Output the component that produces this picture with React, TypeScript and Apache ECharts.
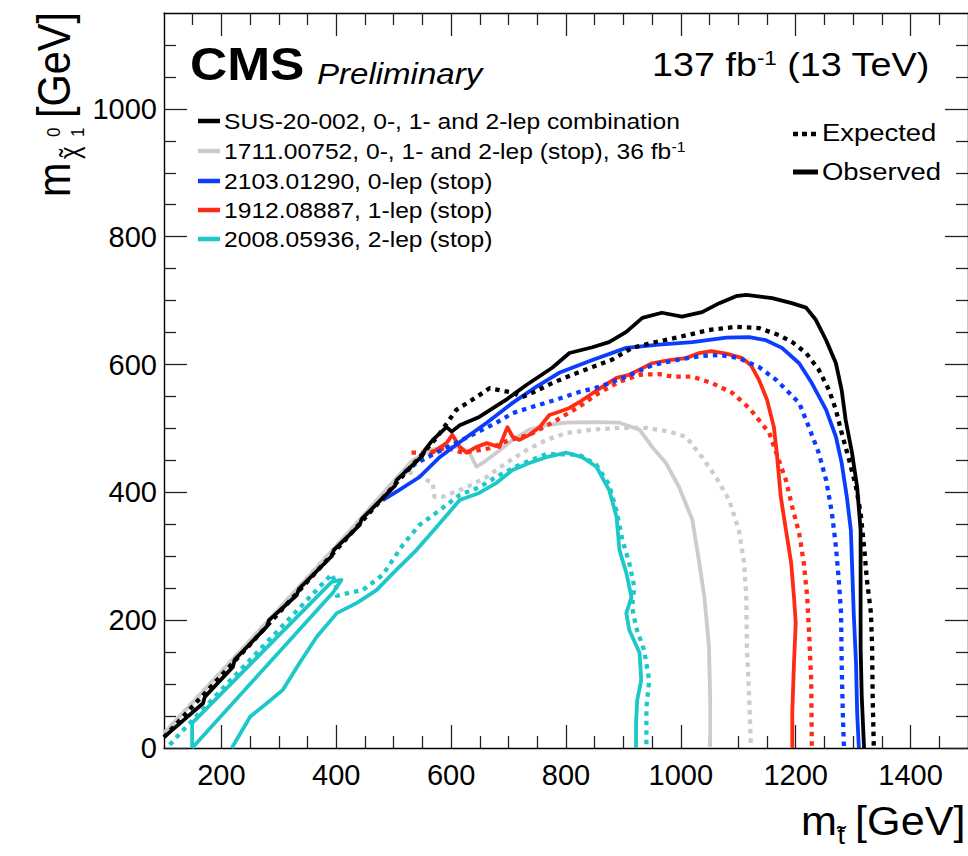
import React, { useEffect, useRef } from "react";
import * as echarts from "echarts";

const FONT = "'Liberation Sans', Arial, Helvetica, sans-serif";

// ---- axis ticks ----
const xMajorTicks = [200, 400, 600, 800, 1000, 1200, 1400];
const xMinorTicks = [150, 250, 300, 350, 450, 500, 550, 650, 700, 750, 850, 900, 950, 1050, 1100, 1150, 1250, 1300, 1350, 1450];
const yMajorTicks = [0, 200, 400, 600, 800, 1000];
const yMinorTicks = [50, 100, 150, 250, 300, 350, 450, 500, 550, 650, 700, 750, 850, 900, 950, 1050, 1100];

// ---- contours [m_stop, m_LSP] in GeV ----
const obsCombo = [[100,17],[168,70],[171,80],[220,127],[223,138],[279,190],[283,200],[331,239],[335,249],[392,300],[396,310],[441,349],[444,358],[502,410],[505,419],[550,457],[554,466],[568,482],[592,502],[601,495],[615,505],[649,518],[696,545],[731,568],[776,595],[806,618],[846,627],[875,635],[905,651],[933,673],[967,681],[1002,675],[1037,682],[1067,696],[1096,707],[1114,709],[1159,704],[1193,696],[1218,689],[1235,670],[1253,638],[1270,602],[1280,560],[1287,513],[1298,462],[1307,408],[1313,341],[1313,263],[1313,158],[1315,80],[1319,0]];
const expCombo = [[100,17],[250,162],[400,310],[550,460],[576,487],[609,529],[644,549],[667,563],[684,560],[707,556],[724,549],[742,556],[776,571],[811,584],[846,596],[881,608],[915,626],[950,634],[992,642],[1049,654],[1096,659],[1136,657],[1171,646],[1194,635],[1218,618],[1240,592],[1258,560],[1270,529],[1280,493],[1293,451],[1305,408],[1313,368],[1319,315],[1324,263],[1331,211],[1333,158],[1334,80],[1336,0]];
const obs1711 = [[100,23],[250,168],[400,316],[530,448],[562,466],[592,471],[615,471],[632,462],[644,440],[655,446],[679,462],[707,482],[736,498],[766,505],[801,509],[853,510],[893,509],[928,498],[950,471],[974,446],[997,408],[1020,357],[1032,290],[1041,236],[1049,158],[1051,80],[1051,0]];
const exp1711 = [[100,23],[250,168],[400,316],[519,435],[568,415],[571,393],[585,393],[627,408],[662,424],[696,446],[731,466],[766,482],[801,493],[846,498],[893,501],[940,501],[980,495],[1009,487],[1037,455],[1061,424],[1084,388],[1101,341],[1110,290],[1114,236],[1115,158],[1119,80],[1122,0]];
const obs0lep = [[481,388],[510,404],[545,424],[580,455],[620,482],[662,509],[707,540],[748,565],[788,587],[846,607],[905,626],[962,631],[1020,635],[1079,642],[1119,643],[1148,638],[1176,626],[1206,602],[1228,571],[1253,529],[1270,487],[1280,446],[1289,393],[1296,341],[1298,290],[1301,211],[1305,133],[1307,55],[1310,0]];
const exp0lep = [[519,432],[540,446],[568,459],[679,509],[707,524],[742,534],[783,545],[823,557],[858,565],[905,581],[950,599],[992,607],[1032,613],[1067,615],[1101,610],[1136,596],[1166,576],[1206,540],[1223,502],[1240,462],[1253,419],[1263,368],[1270,315],[1275,263],[1279,211],[1280,133],[1282,55],[1284,0]];
const obs1lep = [[562,459],[592,477],[602,490],[615,471],[627,462],[644,471],[662,477],[684,471],[698,502],[707,487],[719,482],[736,490],[754,502],[771,521],[788,526],[806,532],[823,541],[841,552],[863,565],[888,579],[910,584],[928,592],[950,602],[980,607],[1009,610],[1032,618],[1053,621],[1079,617],[1107,610],[1122,599],[1136,576],[1150,545],[1162,502],[1167,462],[1174,393],[1183,341],[1192,290],[1197,236],[1200,196],[1197,133],[1194,55],[1194,0]];
const exp1lep = [[531,462],[562,462],[592,470],[620,462],[649,466],[667,469],[702,482],[736,490],[776,509],[823,534],[858,556],[893,573],[928,584],[962,585],[985,581],[1020,581],[1054,571],[1089,556],[1119,532],[1136,513],[1154,493],[1166,462],[1183,419],[1194,377],[1206,336],[1214,290],[1220,236],[1223,185],[1227,106],[1228,0]];
const obs2lep = [[218,0],[250,49],[279,70],[307,91],[336,133],[366,174],[401,211],[436,227],[470,247],[505,279],[540,310],[575,346],[615,388],[649,399],[679,415],[707,435],[736,446],[766,455],[801,462],[828,455],[853,440],[875,404],[888,362],[893,310],[905,274],[914,236],[905,211],[910,185],[928,149],[931,106],[924,75],[922,39],[922,0]];
const obs2lepCorridor = [[149,0],[149,39],[392,260],[409,263],[394,243],[149,0]];
const exp2lep = [[110,5],[128,23],[392,272],[399,258],[401,238],[423,243],[446,247],[481,271],[516,318],[545,349],[580,372],[615,396],[649,408],[684,427],[719,443],[766,460],[823,459],[853,443],[875,412],[888,371],[898,326],[910,290],[919,252],[915,221],[922,189],[936,153],[945,106],[940,64],[940,0]];

const legendLabels = [
  "SUS-20-002, 0-, 1- and 2-lep combination",
  "1711.00752, 0-, 1- and 2-lep (stop), 36 fb{sup|-1}",
  "2103.01290, 0-lep (stop)",
  "1912.08887, 1-lep (stop)",
  "2008.05936, 2-lep (stop)",
];

const BLACK = "#000000";
const GRAY = "#cccccc";
const BLUE = "#0b3dff";
const RED = "#ff2b14";
const CYAN = "#1ec8c8";
const legendColors = [BLACK, GRAY, BLUE, RED, CYAN];
const legendY = [121, 151, 181, 210, 239];

const SX = 1.12;

function lineSeries(name: string, data: number[][], color: string, dotted: boolean, z: number) {
  return {
    type: "line",
    name,
    data,
    xAxisIndex: 0,
    yAxisIndex: 0,
    showSymbol: false,
    symbol: "none",
    smooth: false,
    silent: true,
    clip: true,
    z,
    lineStyle: {
      color,
      width: dotted ? 4.3 : 3.8,
      type: dotted ? [4.5, 5] : "solid",
      cap: "butt",
      join: "round",
    },
  };
}

function txt(x: number, y: number, text: string, fontSize: number, extra: any = {}, rich?: any) {
  return {
    type: "text",
    x,
    y,
    scaleX: SX,
    z: 100,
    style: {
      text,
      fontSize,
      fontFamily: FONT,
      fill: "#000",
      align: "left",
      verticalAlign: "middle",
      ...extra,
      ...(rich ? { rich } : {}),
    },
  };
}

const plainNum = (v: number) => String(Math.round(v));

function xAxisDef(position: string, ticks: number[], len: number, showLine: boolean, showLabel: boolean) {
  return {
    type: "value",
    min: 100,
    max: 1500,
    position,
    axisLine: { show: showLine, onZero: false, lineStyle: { color: "#000", width: 1.4 } },
    axisTick: { show: true, inside: true, length: len, customValues: ticks, lineStyle: { color: "#222", width: 1.3 } },
    axisLabel: {
      show: showLabel,
      customValues: ticks,
      formatter: plainNum,
      fontSize: 29,
      color: "#000",
      fontFamily: FONT,
      margin: 12,
    },
    splitLine: { show: false },
  };
}

function yAxisDef(position: string, ticks: number[], len: number, showLine: boolean, showLabel: boolean) {
  return {
    type: "value",
    min: 0,
    max: 1150,
    position,
    axisLine: { show: showLine, onZero: false, lineStyle: { color: "#000", width: 1.4 } },
    axisTick: { show: true, inside: true, length: len, customValues: ticks, lineStyle: { color: "#222", width: 1.3 } },
    axisLabel: {
      show: showLabel,
      customValues: ticks,
      formatter: plainNum,
      fontSize: 29,
      color: "#000",
      fontFamily: FONT,
      margin: 7,
    },
    splitLine: { show: false },
  };
}

function t(x: number, y: number, text: string, size: number) {
  return { type: "text", x, y, style: { text, fontSize: size, fontFamily: FONT, fill: "#000", verticalAlign: "middle" } };
}

export default function App() {
  const ref = useRef<HTMLDivElement>(null);
  useEffect(() => {
    if (!ref.current) return;
    const chart = echarts.init(ref.current, null, { renderer: "svg" });

    const graphics: any[] = [];
    graphics.push(txt(190, 64, "CMS", 46, { fontWeight: "bold" }));
    graphics.push(txt(317, 74, "Preliminary", 29.5, { fontStyle: "italic" }));
    graphics.push(
      txt(652, 65, "137 fb{sup|-1} (13 TeV)", 33.7, {}, {
        sup: { fontSize: 20, fontFamily: FONT, fill: "#000", verticalAlign: "top", padding: [0, 0, 12, 0] },
      })
    );
    legendLabels.forEach((label, i) => {
      graphics.push({
        type: "line",
        z: 100,
        shape: { x1: 198, y1: legendY[i], x2: 220, y2: legendY[i] },
        style: { stroke: legendColors[i], lineWidth: 4.5 },
      });
      graphics.push(
        txt(224, legendY[i], label, 22, {}, {
          sup: { fontSize: 14, fontFamily: FONT, fill: "#000", verticalAlign: "top", padding: [0, 0, 8, 0] },
        })
      );
    });
    graphics.push({
      type: "line",
      z: 100,
      shape: { x1: 793, y1: 134, x2: 818, y2: 134 },
      style: { stroke: "#000", lineWidth: 4.5, lineDash: [5, 4] },
    });
    graphics.push(txt(822, 133, "Expected", 24.5));
    graphics.push({
      type: "line",
      z: 100,
      shape: { x1: 793, y1: 172, x2: 818, y2: 172 },
      style: { stroke: "#000", lineWidth: 5 },
    });
    graphics.push(txt(822, 172, "Observed", 24.5));

    // y-axis title (rotated, reads bottom to top)
    const tf = 41.5;
    graphics.push({
      type: "group",
      x: 70,
      y: 197,
      rotation: Math.PI / 2,
      scaleY: SX,
      z: 100,
      children: [
        t(0, -0.35 * tf, "m", tf),
        t(38, 8 - 0.35 * 24, "\u03C7", 24),
        t(40, 8 - 0.35 * 24, "\u02DC", 24),
        t(60, -9 - 0.35 * 17, "0", 17),
        t(60, 13 - 0.35 * 17, "1", 17),
        t(79, -0.35 * tf, "[GeV]", tf),
      ],
    });
    // x-axis title
    graphics.push({
      type: "group",
      x: 801,
      y: 835,
      scaleX: 1.04,
      z: 100,
      children: [
        t(0, -0.35 * tf, "m", tf),
        t(35, 9 - 0.35 * 26, "t", 26),
        t(34.5, 9 - 0.35 * 26, "\u02DC", 26),
        t(52, -0.35 * tf, "[GeV]", tf),
      ],
    });

    const option: any = {
      animation: false,
      backgroundColor: "#ffffff",
      grid: { left: 164, right: -1, top: 13, bottom: 108, containLabel: false },
      xAxis: [
        xAxisDef("bottom", xMajorTicks, 23, true, true),
        xAxisDef("bottom", xMinorTicks, 12, false, false),
        xAxisDef("top", xMajorTicks, 23, true, false),
        xAxisDef("top", xMinorTicks, 12, false, false),
      ],
      yAxis: [
        yAxisDef("left", yMajorTicks, 23, true, true),
        yAxisDef("left", yMinorTicks, 12, false, false),
        yAxisDef("right", yMajorTicks, 23, true, false),
        yAxisDef("right", yMinorTicks, 12, false, false),
      ],
      series: [
        lineSeries("1711 exp", exp1711, GRAY, true, 2),
        lineSeries("1711 obs", obs1711, GRAY, false, 2),
        lineSeries("2-lep exp", exp2lep, CYAN, true, 3),
        lineSeries("2-lep obs", obs2lep, CYAN, false, 3),
        lineSeries("2-lep obs corridor", obs2lepCorridor, CYAN, false, 3),
        lineSeries("1-lep exp", exp1lep, RED, true, 4),
        lineSeries("1-lep obs", obs1lep, RED, false, 4),
        lineSeries("0-lep exp", exp0lep, BLUE, true, 5),
        lineSeries("0-lep obs", obs0lep, BLUE, false, 5),
        lineSeries("combo exp", expCombo, BLACK, true, 6),
        lineSeries("combo obs", obsCombo, BLACK, false, 7),
      ],
      graphic: graphics,
    };
    chart.setOption(option);
    return () => chart.dispose();
  }, []);

  return (
    <div
      ref={ref}
      style={{ position: "absolute", left: 0, top: 0, width: 968, height: 856, background: "#fff" }}
    />
  );
}
